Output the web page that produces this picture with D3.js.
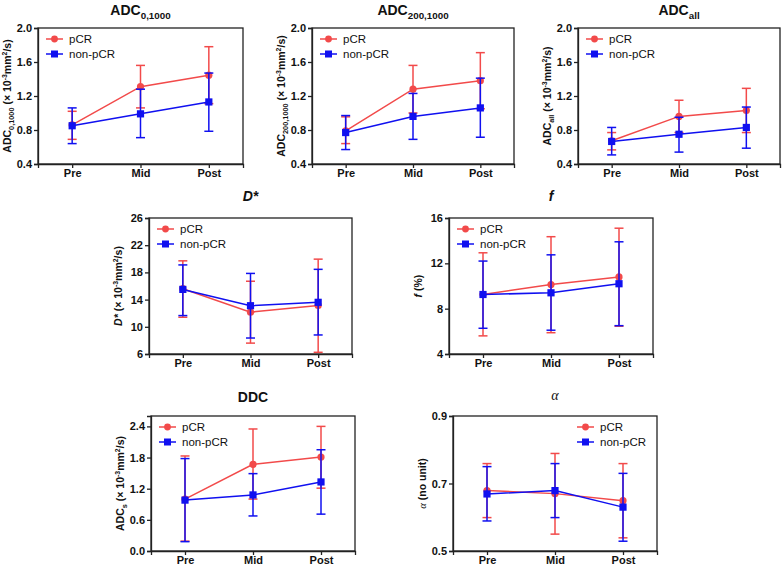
<!DOCTYPE html>
<html><head><meta charset="utf-8">
<script src="https://cdn.jsdelivr.net/npm/d3@7"></script>
<style>body{margin:0;background:#fff}svg{display:block}</style>
</head><body>
<svg id="c" width="784" height="567"></svg>
<script>
const categories = ["Pre", "Mid", "Post"];
const seriesNames = ["pCR", "non-pCR"];
const seriesColors = ["#f24a4a", "#1010f0"];

// ADC 0,1000
const adc01000_pCR = [0.86, 1.31, 1.445];
const adc01000_pCR_lo = [0.69, 1.06, 1.11];
const adc01000_pCR_hi = [1.02, 1.56, 1.78];
const adc01000_non = [0.85, 0.99, 1.13];
const adc01000_non_lo = [0.64, 0.71, 0.785];
const adc01000_non_hi = [1.06, 1.28, 1.47];
// ADC 200,1000
const adc2001000_pCR = [0.79, 1.28, 1.38];
const adc2001000_pCR_lo = [0.64, 1.0, 1.05];
const adc2001000_pCR_hi = [0.955, 1.56, 1.71];
const adc2001000_non = [0.77, 0.96, 1.06];
const adc2001000_non_lo = [0.57, 0.69, 0.715];
const adc2001000_non_hi = [0.97, 1.23, 1.41];
// ADC all
const adcall_pCR = [0.673, 0.96, 1.03];
const adcall_pCR_lo = [0.566, 0.77, 0.77];
const adcall_pCR_hi = [0.77, 1.15, 1.29];
const adcall_non = [0.665, 0.75, 0.83];
const adcall_non_lo = [0.507, 0.54, 0.586];
const adcall_non_hi = [0.83, 0.95, 1.07];
// D*
const dstar_pCR = [15.6, 12.15, 13.15];
const dstar_pCR_lo = [11.4, 7.6, 6.25];
const dstar_pCR_hi = [19.7, 16.7, 19.95];
const dstar_non = [15.5, 13.1, 13.6];
const dstar_non_lo = [11.65, 8.35, 8.8];
const dstar_non_hi = [19.1, 17.85, 18.45];
// f
const f_pCR = [9.25, 10.13, 10.8];
const f_pCR_lo = [5.6, 5.88, 6.45];
const f_pCR_hi = [12.93, 14.35, 15.1];
const f_non = [9.25, 9.4, 10.2];
const f_non_lo = [6.27, 6.1, 6.5];
const f_non_hi = [12.2, 12.75, 13.9];
// DDC
const ddc_pCR = [1.0, 1.67, 1.81];
const ddc_pCR_lo = [0.19, 1.0, 1.21];
const ddc_pCR_hi = [1.83, 2.35, 2.40];
const ddc_non = [0.98, 1.08, 1.33];
const ddc_non_lo = [0.18, 0.675, 0.71];
const ddc_non_hi = [1.78, 1.49, 1.95];
// alpha
const alpha_pCR = [0.679, 0.67, 0.649];
const alpha_pCR_lo = [0.599, 0.55, 0.539];
const alpha_pCR_hi = [0.759, 0.789, 0.759];
const alpha_non = [0.669, 0.679, 0.63];
const alpha_non_lo = [0.589, 0.599, 0.529];
const alpha_non_hi = [0.75, 0.759, 0.73];

// tick values
const ticksADC = [0.4, 0.8, 1.2, 1.6, 2.0];
const ticksDstar = [6, 10, 14, 18, 22, 26];
const ticksF = [4, 8, 12, 16];
const ticksDDC = [0.0, 0.6, 1.2, 1.8, 2.4];
const ticksAlpha = [0.5, 0.7, 0.9];

const FONT = "Arial, 'Liberation Sans', sans-serif";
const SERIF = "'Liberation Serif', 'DejaVu Serif', serif";
const svg = d3.select("#c");

function rich(textSel, parts, base) {
  let shift = 0;
  parts.forEach(p => {
    const ts = textSel.append("tspan").text(p.t);
    let target = 0, size = base;
    if (p.s === "sub") { target = base * 0.3; size = base * 0.7; }
    if (p.s === "sup") { target = -base * 0.38; size = base * 0.66; }
    ts.attr("font-size", size);
    if (target !== shift) { ts.attr("dy", target - shift); shift = target; }
    if (p.it) ts.attr("font-style", "italic");
    if (p.serif) ts.attr("font-family", SERIF);
    if (p.nb) ts.attr("font-weight", "normal");
  });
}

const unitParts = [
  {t: " (× 10"}, {t: "-3", s: "sup"}, {t: "mm"}, {t: "2", s: "sup"}, {t: "/s)"}
];

const panels = [
  {x0: 38, x1: 243, y0: 28, y1: 164, dom: [0.4, 2.0], ticks: ticksADC, fmt: ".1f",
   title: [{t: "ADC"}, {t: "0,1000", s: "sub"}], tY: 15,
   ylab: [{t: "ADC"}, {t: "0,1000", s: "sub"}, ...unitParts],
   data: [[adc01000_pCR, adc01000_pCR_lo, adc01000_pCR_hi], [adc01000_non, adc01000_non_lo, adc01000_non_hi]], legend: "left"},
  {x0: 312, x1: 514, y0: 28, y1: 164, dom: [0.4, 2.0], ticks: ticksADC, fmt: ".1f",
   title: [{t: "ADC"}, {t: "200,1000", s: "sub"}], tY: 15,
   ylab: [{t: "ADC"}, {t: "200,1000", s: "sub"}, ...unitParts],
   data: [[adc2001000_pCR, adc2001000_pCR_lo, adc2001000_pCR_hi], [adc2001000_non, adc2001000_non_lo, adc2001000_non_hi]], legend: "left"},
  {x0: 578, x1: 780, y0: 28, y1: 164, dom: [0.4, 2.0], ticks: ticksADC, fmt: ".1f",
   title: [{t: "ADC"}, {t: "all", s: "sub"}], tY: 15,
   ylab: [{t: "ADC"}, {t: "all", s: "sub"}, ...unitParts],
   data: [[adcall_pCR, adcall_pCR_lo, adcall_pCR_hi], [adcall_non, adcall_non_lo, adcall_non_hi]], legend: "left"},
  {x0: 149, x1: 352, y0: 218, y1: 354, dom: [6, 26], ticks: ticksDstar, fmt: "d",
   title: [{t: "D*", it: true}], tY: 201,
   ylab: [{t: "D*", it: true}, ...unitParts],
   data: [[dstar_pCR, dstar_pCR_lo, dstar_pCR_hi], [dstar_non, dstar_non_lo, dstar_non_hi]], legend: "left"},
  {x0: 449, x1: 653, y0: 218, y1: 354, dom: [4, 16], ticks: ticksF, fmt: "d",
   title: [{t: "f", it: true}], tY: 201,
   ylab: [{t: "f", it: true}, {t: " (%)"}],
   data: [[f_pCR, f_pCR_lo, f_pCR_hi], [f_non, f_non_lo, f_non_hi]], legend: "left"},
  {x0: 151, x1: 355, y0: 416, y1: 551, dom: [0, 2.6], ticks: ticksDDC, fmt: ".1f",
   title: [{t: "DDC"}], tY: 402,
   ylab: [{t: "ADC"}, {t: "s", s: "sub"}, ...unitParts],
   data: [[ddc_pCR, ddc_pCR_lo, ddc_pCR_hi], [ddc_non, ddc_non_lo, ddc_non_hi]], legend: "left"},
  {x0: 453, x1: 657, y0: 416, y1: 551, dom: [0.5, 0.9], ticks: ticksAlpha, fmt: ".1f",
   title: [{t: "α", it: true, serif: true, nb: true}], tY: 400,
   ylab: [{t: "α", it: true, serif: true, nb: true}, {t: " (no unit)"}],
   data: [[alpha_pCR, alpha_pCR_lo, alpha_pCR_hi], [alpha_non, alpha_non_lo, alpha_non_hi]], legend: "right"}
];

panels.forEach(p => {
  const g = svg.append("g");
  const x = d3.scalePoint().domain(categories).range([p.x0, p.x1]).padding(0.5);
  const y = d3.scaleLinear().domain(p.dom).range([p.y1, p.y0]);

  // frame
  g.append("rect").attr("x", p.x0).attr("y", p.y0).attr("width", p.x1 - p.x0).attr("height", p.y1 - p.y0)
    .attr("fill", "none").attr("stroke", "#222").attr("stroke-width", 1.3);

  // axes
  const ya = g.append("g").attr("transform", `translate(${p.x0},0)`)
    .call(d3.axisLeft(y).tickValues(p.ticks).tickFormat(d3.format(p.fmt)).tickSize(4).tickPadding(2));
  const xa = g.append("g").attr("transform", `translate(0,${p.y1})`)
    .call(d3.axisBottom(x).tickSize(4).tickPadding(1.5));
  [ya, xa].forEach(a => {
    a.select(".domain").attr("stroke", "#222").attr("stroke-width", 1.3);
    a.selectAll(".tick line").attr("stroke", "#222").attr("stroke-width", 1.3);
    a.selectAll("text").attr("font-family", FONT).attr("font-weight", "bold").attr("font-size", 11).attr("fill", "#111");
  });

  // title
  const tt = g.append("text").attr("x", (p.x0 + p.x1) / 2).attr("y", p.tY).attr("text-anchor", "middle")
    .attr("font-family", FONT).attr("font-weight", "bold").attr("font-size", 14).attr("fill", "#111");
  rich(tt, p.title, 14);

  // y label
  const yl = g.append("text").attr("transform", `translate(${p.x0 - 27},${(p.y0 + p.y1) / 2}) rotate(-90)`)
    .attr("text-anchor", "middle").attr("font-family", FONT).attr("font-weight", "bold").attr("font-size", 10.5).attr("fill", "#111");
  rich(yl, p.ylab, 10.5);

  // series
  p.data.forEach((s, si) => {
    const [mean, lo, hi] = s;
    const col = seriesColors[si];
    const sg = g.append("g");
    const pts = categories.map((c, i) => ({c, m: mean[i], lo: lo[i], hi: hi[i]}));
    sg.append("path").datum(pts)
      .attr("d", d3.line().x(d => x(d.c)).y(d => y(d.m)))
      .attr("fill", "none").attr("stroke", col).attr("stroke-width", 1.5);
    pts.forEach(d => {
      const cx = x(d.c);
      sg.append("line").attr("x1", cx).attr("x2", cx).attr("y1", y(d.lo)).attr("y2", y(d.hi))
        .attr("stroke", col).attr("stroke-width", 1.5);
      [d.lo, d.hi].forEach(v => {
        sg.append("line").attr("x1", cx - 4.5).attr("x2", cx + 4.5).attr("y1", y(v)).attr("y2", y(v))
          .attr("stroke", col).attr("stroke-width", 1.5);
      });
      if (si === 0) sg.append("circle").attr("cx", cx).attr("cy", y(d.m)).attr("r", 3.6).attr("fill", col);
      else sg.append("rect").attr("x", cx - 3.6).attr("y", y(d.m) - 3.6).attr("width", 7.2).attr("height", 7.2).attr("fill", col);
    });
  });

  // legend
  const lx = p.legend === "left" ? p.x0 + 8 : p.x1 - 80;
  seriesNames.forEach((n, si) => {
    const ly = p.y0 + 11 + si * 15;
    const col = seriesColors[si];
    g.append("line").attr("x1", lx).attr("x2", lx + 17).attr("y1", ly).attr("y2", ly).attr("stroke", col).attr("stroke-width", 1.5);
    if (si === 0) g.append("circle").attr("cx", lx + 8.5).attr("cy", ly).attr("r", 3.4).attr("fill", col);
    else g.append("rect").attr("x", lx + 5).attr("y", ly - 3.5).attr("width", 7).attr("height", 7).attr("fill", col);
    g.append("text").attr("x", lx + 23).attr("y", ly + 4).attr("font-family", FONT).attr("font-size", 11.5)
      .attr("fill", "#111").text(n);
  });
});
</script>
</body></html>
